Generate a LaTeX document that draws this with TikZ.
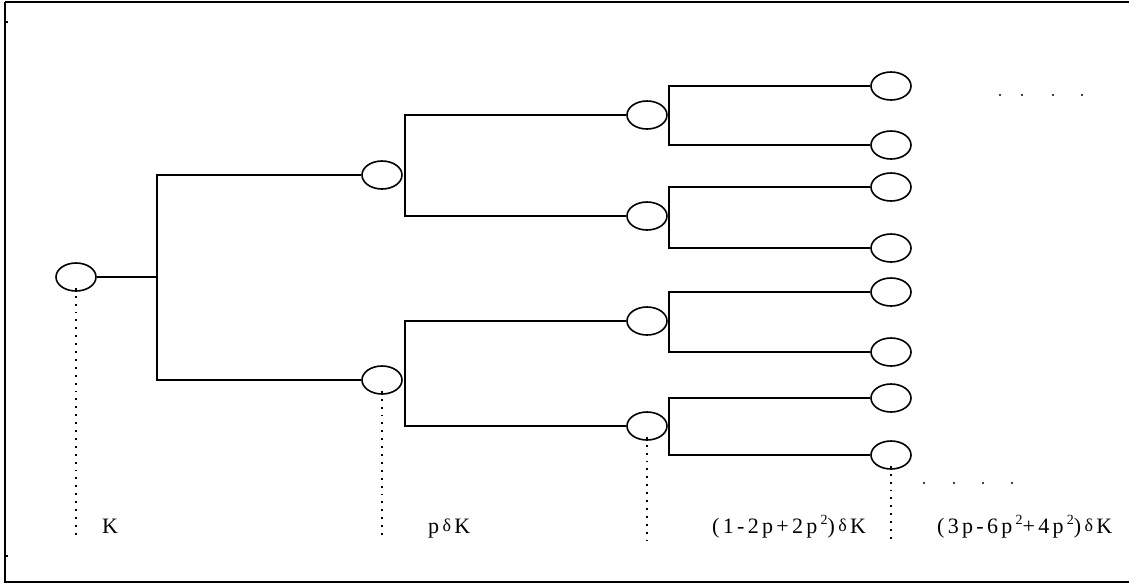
\documentclass[tikz,border=0pt]{standalone}
\usepackage{fontspec}
\setmainfont{Liberation Serif}
\usetikzlibrary{shapes.geometric}
\newcommand{\dlt}{{\fontsize{18}{18}\selectfont\raisebox{2pt}{δ}}}
\newcommand{\sq}{\raisebox{8.5pt}{\fontsize{14}{14}\selectfont 2}}
\newcommand{\gp}{\hspace{3.3pt}}
\begin{document}
\begin{tikzpicture}[x=1pt,y=-1pt,
  cell/.style={ellipse,draw,line width=1.6pt,minimum width=40pt,minimum height=28pt,inner sep=0pt},
  link/.style={line width=1.6pt},
  guide/.style={line width=1.9pt,dash pattern=on 1.9pt off 6pt},
  lbl/.style={anchor=base west,inner sep=0pt,font=\fontsize{22}{22}\selectfont},
  speck/.style={circle,fill,inner sep=0pt,minimum size=2.2pt}]
\useasboundingbox (0,0) rectangle (1129,584);
\clip (0,0) rectangle (1129,584);
\draw[line width=2pt] (5,2) -- (1140,2) (5,2) -- (5,582) -- (1140,582);
\fill (6.2,21) rectangle (8,23);
\fill (6.2,555) rectangle (8,557);
% nodes
\node[cell] (r) at (76,277) {};
\node[cell] (a1) at (382,175) {};
\node[cell] (a2) at (382,380) {};
\node[cell] (b1) at (647,115) {};
\node[cell] (b2) at (647,216) {};
\node[cell] (b3) at (647,321) {};
\node[cell] (b4) at (647,426) {};
\node[cell] (c1) at (891,86) {};
\node[cell] (c2) at (891,145) {};
\node[cell] (c3) at (891,187) {};
\node[cell] (c4) at (891,248) {};
\node[cell] (c5) at (891,292) {};
\node[cell] (c6) at (891,352) {};
\node[cell] (c7) at (891,398) {};
\node[cell] (c8) at (891,455) {};
% connectors
\coordinate (j0) at (157,277);
\draw[link] (r.east) -- (j0);
\draw[link] (a1.west) -| (j0) |- (a2.west);
\draw[link] (b1.west) -| ([xshift=2pt]a1.east) |- (b2.west);
\draw[link] (b3.west) -| ([xshift=2pt]a2.east) |- (b4.west);
\draw[link] (c1.west) -| ([xshift=1pt]b1.east) |- (c2.west);
\draw[link] (c3.west) -| ([xshift=1pt]b2.east) |- (c4.west);
\draw[link] (c5.west) -| ([xshift=1pt]b3.east) |- (c6.west);
\draw[link] (c7.west) -| ([xshift=1pt]b4.east) |- (c8.west);
% guides
\coordinate (g0) at (76,540);
\coordinate (g1) at (382,540);
\coordinate (g2) at (647,540);
\coordinate (g3) at (891,540);
\draw[guide] ([yshift=4pt]r.south) -- (g0);
\draw[guide] ([yshift=4pt]a2.south) -- (g1);
\draw[guide] ([yshift=4pt]b4.south) -- (g2);
\draw[guide] ([yshift=4pt]c8.south) -- (g3);
% labels
\node[lbl] (l0) at (102,533) {K};
\node[lbl] (l1) at (428,533) {p\gp\dlt\gp K};
\node[lbl] (l2) at (712,533) {(\gp1\gp-\gp2\gp p\gp+\gp2\gp p\gp\sq)\gp\dlt\gp K};
\node[lbl] (l3) at (937,533) {(\gp3\gp p\gp-\gp6\gp p\gp\sq+\gp4\gp p\gp\sq)\gp\dlt\gp K};
% dots
\foreach \x [count=\i] in {1000,1022,1053,1082} \node[speck] (t\i) at (\x,95) {};
\foreach \x [count=\i] in {924,954,983,1012} \node[speck] (u\i) at (\x,483) {};
\end{tikzpicture}
\end{document}
